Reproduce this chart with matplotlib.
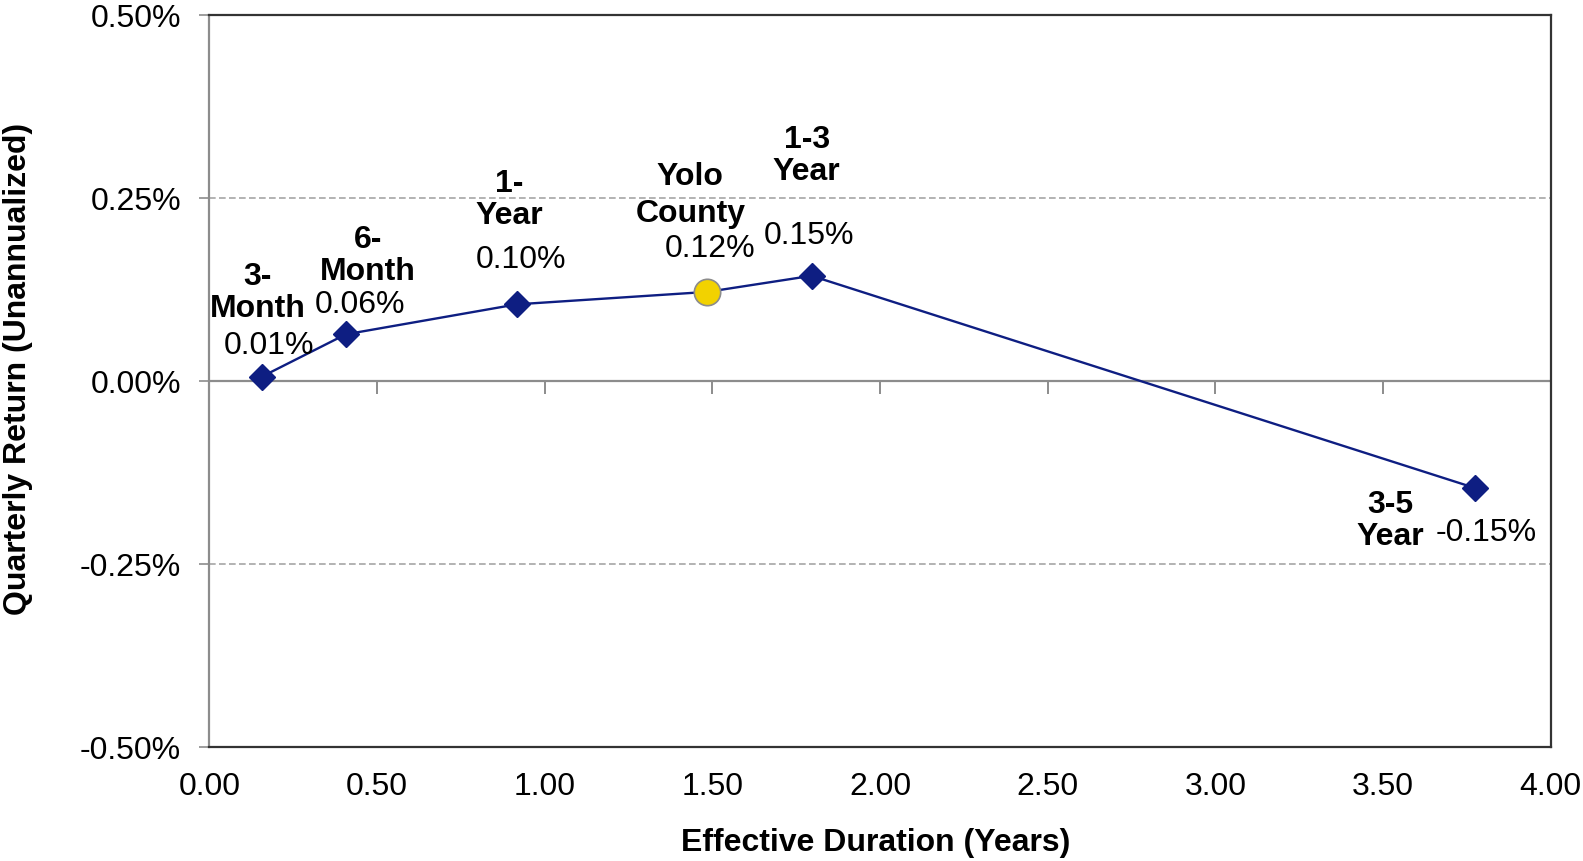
import numpy as np
import matplotlib.pyplot as plt

plt.rcParams['font.family'] = ['Liberation Sans', 'DejaVu Sans']

# index points (duration in years, quarterly return in %)
names = ['3-\nMonth', '6-\nMonth', '1-\nYear', '1-3\nYear', '3-5\nYear']
dur = [0.156, 0.407, 0.917, 1.796, 3.774]
ret = [0.006, 0.064, 0.105, 0.144, -0.146]
val_labels = ['0.01%', '0.06%', '0.10%', '0.15%', '-0.15%']

# portfolio point
yolo_name = 'Yolo\nCounty'
yolo_dur = 1.485
yolo_ret = 0.122
yolo_label = '0.12%'

x_ticks = [0.0, 0.5, 1.0, 1.5, 2.0, 2.5, 3.0, 3.5, 4.0]
y_ticks = [-0.50, -0.25, 0.0, 0.25, 0.50]

navy = '#0E1E82'
fs = 23

fig = plt.figure(figsize=(15.83, 8.61), dpi=100)
ax = fig.add_axes([0.1322, 0.1324, 0.9796 - 0.1322, 0.9822 - 0.1324])

ax.set_xlim(0, 4)
ax.set_ylim(-0.5, 0.5)

# gridlines
for yv in [-0.25, 0.25]:
    ax.axhline(yv, color='#A6A6A6', lw=1.2, ls=(0, (4, 2)), zorder=1)
ax.axhline(0, color='#8C8C8C', lw=1.6, zorder=1)

# connecting line goes through the portfolio point too
xs = dur[:3] + [yolo_dur] + dur[3:]
ys = ret[:3] + [yolo_ret] + ret[3:]
ax.plot(xs, ys, color=navy, lw=1.7, zorder=2)
ax.plot(dur, ret, ls='none', marker='D', ms=13.5, color=navy, zorder=3)
ax.plot([yolo_dur], [yolo_ret], ls='none', marker='o', ms=19,
        markerfacecolor='#F2D200', markeredgecolor='#8C8C8C', markeredgewidth=1.2, zorder=4)

# tick marks on the zero line
ax.plot(x_ticks[1:-1], [0] * 7, ls='none', marker=3, ms=9, mew=1.4, color='#8C8C8C', zorder=1)

# labels (offsets in pixels from the marker)
name_off = [(-4, 84), (22, 78), (-8, 104), (-5, 120), (-85, -33)]
val_off = [(7, 31), (14, 29), (4, 44), (-3, 40), (11, -45)]
for i in range(len(names)):
    ax.annotate(names[i], (dur[i], ret[i]), xytext=name_off[i], textcoords='offset pixels',
                ha='center', va='center', fontsize=fs, fontweight='bold', linespacing=1.1)
    ax.annotate(val_labels[i], (dur[i], ret[i]), xytext=val_off[i], textcoords='offset pixels',
                ha='center', va='center', fontsize=fs)
ax.annotate(yolo_name, (yolo_dur, yolo_ret), xytext=(-17, 96), textcoords='offset pixels',
            ha='center', va='center', fontsize=fs, fontweight='bold', linespacing=1.3)
ax.annotate(yolo_label, (yolo_dur, yolo_ret), xytext=(3, 43), textcoords='offset pixels',
            ha='center', va='center', fontsize=fs)

ax.set_xticks(x_ticks)
ax.set_xticklabels(['%.2f' % v for v in x_ticks])
ax.set_yticks(y_ticks)
ax.set_yticklabels(['%.2f%%' % v for v in y_ticks])
ax.tick_params(axis='x', length=0, pad=18, labelsize=fs)
ax.tick_params(axis='y', length=7.2, width=1.2, color='#8C8C8C', pad=13, labelsize=fs)

ax.spines['left'].set_color('#8C8C8C')
ax.spines['left'].set_linewidth(1.6)
for s in ['top', 'right', 'bottom']:
    ax.spines[s].set_color('#333333')
    ax.spines[s].set_linewidth(1.6)

fig.text(875.3 / 1583, 1 - 843.5 / 861, 'Effective Duration (Years)', ha='center', va='center',
         fontsize=fs, fontweight='bold')
fig.text(18.5 / 1583, 1 - 368.5 / 861, 'Quarterly Return (Unannualized)', ha='center', va='center',
         rotation=90, fontsize=fs, fontweight='bold')

fig.savefig('out.png', dpi=100)
